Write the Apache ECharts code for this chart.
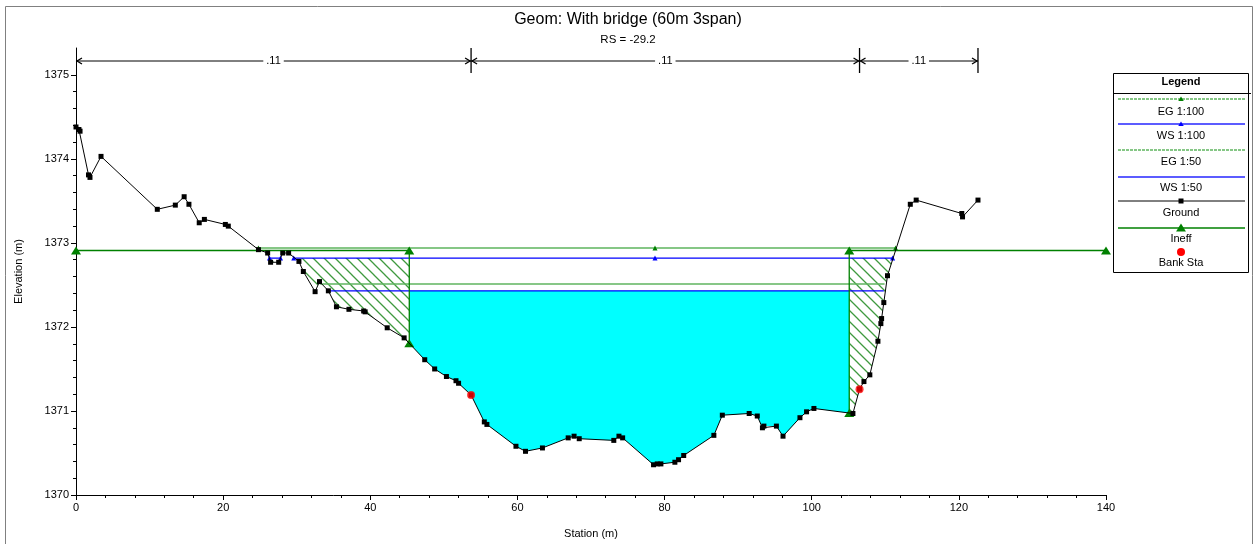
<!DOCTYPE html>
<html>
<head>
<meta charset="utf-8">
<script src="https://cdn.jsdelivr.net/npm/echarts@6/dist/echarts.min.js"></script>
<style>
  html, body { margin: 0; padding: 0; background: #fff; }
  #chart { width: 1256px; height: 544px; }
</style>
</head>
<body>
<div id="chart"></div>
<script>
// Cross-section ground points: station (m) and elevation (m)
const groundSta = [0, 0.4, 0.55, 1.7, 1.9, 3.4, 11.05, 13.5, 14.7, 15.35,
  16.75, 17.45, 20.3, 20.7, 24.8, 26.05, 26.45, 27.55, 28.1, 28.9,
  30.3, 30.9, 32.5, 33.1, 34.3, 35.4, 37.1, 39.1, 39.3, 42.3,
  44.6, 47.4, 48.75, 50.35, 51.65, 52.0, 53.7, 55.5, 55.85, 59.8,
  61.1, 63.4, 66.9, 67.7, 68.4, 73.1, 73.8, 74.3, 78.5, 79.0,
  79.5, 81.4, 81.9, 82.6, 86.7, 87.85, 91.5, 92.6, 93.3, 93.5,
  95.2, 96.1, 98.4, 99.3, 100.3, 105.6, 106.5, 107.1, 107.9, 109.0,
  109.4, 109.5, 109.8, 110.3, 113.4, 114.2, 120.4, 120.5, 122.6];
const groundElev = [1374.38, 1374.35, 1374.33, 1373.81, 1373.78, 1374.03, 1373.40, 1373.45, 1373.55, 1373.46,
  1373.24, 1373.28, 1373.22, 1373.20, 1372.92, 1372.88, 1372.77, 1372.77, 1372.88, 1372.88,
  1372.78, 1372.66, 1372.42, 1372.54, 1372.43, 1372.24, 1372.21, 1372.19, 1372.18, 1371.99,
  1371.87, 1371.61, 1371.50, 1371.41, 1371.36, 1371.33, 1371.19, 1370.87, 1370.84, 1370.58,
  1370.52, 1370.56, 1370.68, 1370.70, 1370.67, 1370.65, 1370.70, 1370.68, 1370.36, 1370.37,
  1370.37, 1370.39, 1370.42, 1370.47, 1370.71, 1370.95, 1370.97, 1370.94, 1370.80, 1370.82,
  1370.82, 1370.70, 1370.92, 1370.99, 1371.03, 1370.97, 1371.26, 1371.35, 1371.43, 1371.83,
  1372.04, 1372.10, 1372.29, 1372.61, 1373.46, 1373.51, 1373.35, 1373.31, 1373.51];

// Bank stations
const bankSta = [53.7, 106.5];
const bankElev = [1371.19, 1371.26];

// Ineffective flow areas: left block and right block (stations), common elevation
const ineffLeftSta = [0, 45.3];
const ineffRightSta = [105.1, 140];
const ineffElev = 1372.91;

// Profiles
const eg100Elev = 1372.94;
const eg100Sta = [24.8, 78.7, 111.4];
const ws100Elev = 1372.82;
const ws100StaPocket = [26.3, 27.8];
const ws100StaMain = [29.6, 78.7, 111.0];
const eg50Elev = 1372.51;
const eg50Sta = [33.2, 109.9];
const ws50Elev = 1372.43;
const ws50Sta = [34.3, 109.8];

// Manning's n regions
const nBreaks = [0, 53.7, 106.5, 122.6];
const nValues = ['.11', '.11', '.11'];

// Axis ticks
const xTicks = [0, 20, 40, 60, 80, 100, 120, 140];
const yTicks = [1370, 1371, 1372, 1373, 1374, 1375];

const FONT = "'Liberation Sans', Arial, sans-serif";
const C_EG = '#5fb55f';
const C_WS = '#0000ff';
const C_INEFF = '#008000';

function groundAt(x) {
  if (x <= groundSta[0]) return groundElev[0];
  for (let i = 1; i < groundSta.length; i++) {
    if (x <= groundSta[i]) {
      const t = (x - groundSta[i - 1]) / (groundSta[i] - groundSta[i - 1]);
      return groundElev[i - 1] + t * (groundElev[i] - groundElev[i - 1]);
    }
  }
  return groundElev[groundElev.length - 1];
}

// Region lying between the ground and a horizontal level, limited to stations [a, b]
function pondPolygon(a, b, level) {
  const xs = [a];
  groundSta.forEach(s => { if (s > a && s < b) xs.push(s); });
  xs.push(b);
  const bottom = [];
  for (let i = 0; i < xs.length; i++) {
    const g = groundAt(xs[i]);
    if (i > 0) {
      const gp = groundAt(xs[i - 1]);
      if ((gp - level) * (g - level) < 0) {
        const t = (level - gp) / (g - gp);
        bottom.push([xs[i - 1] + t * (xs[i] - xs[i - 1]), level]);
      }
    }
    bottom.push([xs[i], Math.min(g, level)]);
  }
  return [[a, level], [b, level]].concat(bottom.reverse());
}

function hatchCanvas() {
  const s = 11;
  const c = document.createElement('canvas');
  c.width = s; c.height = s;
  const g = c.getContext('2d');
  g.strokeStyle = '#3f9a3f';
  g.lineWidth = 1.3;
  g.beginPath();
  g.moveTo(-1, -1); g.lineTo(s + 1, s + 1);
  g.moveTo(-1, s - 1); g.lineTo(1, s + 1);
  g.moveTo(s - 1, -1); g.lineTo(s + 1, 1);
  g.stroke();
  return c;
}

function areaSeries(polys, fill, z) {
  return {
    type: 'custom', silent: true, z: z,
    data: polys.map(p => p[0]),
    renderItem: (params, api) => {
      const poly = polys[params.dataIndex];
      return {
        type: 'polygon',
        shape: { points: poly.map(p => api.coord(p)) },
        style: { fill: fill }
      };
    }
  };
}

function flatLine(sta, elev, color, width, symbol, symbolSize, z) {
  return {
    type: 'line', silent: true, z: z,
    data: sta.map(s => [s, elev]),
    lineStyle: { color: color, width: width },
    symbol: symbol || 'none', symbolSize: symbolSize || 0,
    showSymbol: !!symbol,
    itemStyle: { color: color === C_EG ? C_INEFF : color }
  };
}

const waterPoly = pondPolygon(ineffLeftSta[1], ineffRightSta[0], ws50Elev);
const hatchLeft = pondPolygon(ineffLeftSta[0], ineffLeftSta[1], ws100Elev);
const hatchRight = pondPolygon(ineffRightSta[0], ineffRightSta[1], ws100Elev);

// minor tick positions: five steps per metre between the labelled elevations
const minorY = [];
for (let k = 0; k < (yTicks.length - 1) * 5; k++) {
  if (k % 5 !== 0) minorY.push(Math.round((yTicks[0] + k * 0.2) * 10) / 10);
}

const series = [
  areaSeries([waterPoly], '#00ffff', 1),
  areaSeries([hatchLeft, hatchRight], { type: 'pattern', image: hatchCanvas(), repeat: 'repeat' }, 2),
  flatLine(eg50Sta, eg50Elev, C_EG, 1.5, null, 0, 3),
  flatLine(ws50Sta, ws50Elev, C_WS, 1.2, null, 0, 3),
  flatLine(eg100Sta, eg100Elev, C_EG, 1.5, 'triangle', 5, 4),
  flatLine(ws100StaPocket, ws100Elev, C_WS, 1.2, 'triangle', 5, 4),
  flatLine(ws100StaMain, ws100Elev, C_WS, 1.2, 'triangle', 5, 4),
  {
    type: 'line', silent: true, z: 5,
    data: [[ineffLeftSta[0], ineffElev], [ineffLeftSta[1], ineffElev], [ineffLeftSta[1], groundAt(ineffLeftSta[1])]],
    lineStyle: { color: C_INEFF, width: 1.3 },
    symbol: 'triangle', symbolSize: [10, 8], itemStyle: { color: C_INEFF }
  },
  {
    type: 'line', silent: true, z: 5,
    data: [[ineffRightSta[0], groundAt(ineffRightSta[0])], [ineffRightSta[0], ineffElev], [ineffRightSta[1], ineffElev]],
    lineStyle: { color: C_INEFF, width: 1.3 },
    symbol: 'triangle', symbolSize: [10, 8], itemStyle: { color: C_INEFF }
  },
  {
    type: 'line', silent: true, z: 6,
    data: groundSta.map((s, i) => [s, groundElev[i]]),
    lineStyle: { color: '#000', width: 1 },
    symbol: 'rect', symbolSize: 5, itemStyle: { color: '#000' }
  },
  {
    type: 'scatter', silent: true, z: 7,
    data: bankSta.map((s, i) => [s, bankElev[i]]),
    symbol: 'circle', symbolSize: 8, itemStyle: { color: '#ff0000' }
  },
  {
    // Manning's n dimension bars along the top of the plot
    type: 'custom', silent: true, z: 8,
    data: nValues.map((v, i) => [nBreaks[i], yTicks[0]]),
    renderItem: (params, api) => {
      const i = params.dataIndex;
      const x0 = api.coord([nBreaks[i], yTicks[0]])[0];
      const x1 = api.coord([nBreaks[i + 1], yTicks[0]])[0];
      const y = params.coordSys.y + 13;
      const st = { stroke: '#000', lineWidth: 1, fill: null };
      const children = [
        { type: 'line', shape: { x1: x0, y1: y, x2: x1, y2: y }, style: st },
        { type: 'polyline', shape: { points: [[x0 + 6, y - 3], [x0 + 1, y], [x0 + 6, y + 3]] }, style: { stroke: '#000', lineWidth: 1.3, fill: null } },
        { type: 'polyline', shape: { points: [[x1 - 6, y - 3], [x1 - 1, y], [x1 - 6, y + 3]] }, style: { stroke: '#000', lineWidth: 1.3, fill: null } },
        { type: 'line', shape: { x1: x1, y1: y - 13, x2: x1, y2: y + 12 }, style: { stroke: '#000', lineWidth: 1.3 } },
        {
          type: 'text', x: (x0 + x1) / 2, y: y,
          style: {
            text: nValues[i], align: 'center', verticalAlign: 'middle',
            font: '11px ' + FONT, fill: '#000', backgroundColor: '#fff', padding: [0, 3]
          }
        }
      ];
      return { type: 'group', children: children };
    }
  }
];

// Legend drawn as a boxed panel, sample line above each caption
const LG = { x: 1113, y: 73, w: 135, h: 199, cx: 1181 };
const legendItems = [
  { name: 'EG 1:100', ly: 99, ty: 112, line: C_EG, dash: [3, 1], lw: 1.5, mark: 'tri', mc: C_INEFF, ms: 5 },
  { name: 'WS 1:100', ly: 124, ty: 136, line: '#5c5cff', lw: 2, mark: 'tri', mc: C_WS, ms: 5 },
  { name: 'EG 1:50', ly: 150, ty: 162, line: C_EG, dash: [3, 1], lw: 1.5 },
  { name: 'WS 1:50', ly: 177, ty: 188, line: '#5c5cff', lw: 2 },
  { name: 'Ground', ly: 201, ty: 213, line: '#000', lw: 1, mark: 'sq', mc: '#000', ms: 5 },
  { name: 'Ineff', ly: 228, ty: 239, line: C_INEFF, lw: 1.3, mark: 'tri', mc: C_INEFF, ms: 9 },
  { name: 'Bank Sta', ly: 252, ty: 263, mark: 'dot', mc: '#ff0000', ms: 8 }
];
const legendGraphics = [
  { type: 'rect', shape: { x: LG.x + 0.5, y: LG.y + 0.5, width: LG.w, height: LG.h }, style: { fill: '#fff', stroke: '#000', lineWidth: 1 }, z: 100 },
  { type: 'line', shape: { x1: LG.x, y1: 93.5, x2: LG.x + LG.w + 3, y2: 93.5 }, style: { stroke: '#000', lineWidth: 1 }, z: 101 },
  { type: 'text', x: LG.cx, y: 82, style: { text: 'Legend', align: 'center', verticalAlign: 'middle', font: 'bold 11px ' + FONT, fill: '#000' }, z: 101 }
];
legendItems.forEach(it => {
  if (it.line) {
    legendGraphics.push({ type: 'line', shape: { x1: LG.x + 5, y1: it.ly, x2: LG.x + LG.w - 3, y2: it.ly },
      style: { stroke: it.line, lineWidth: it.lw, lineDash: it.dash || null }, z: 101 });
  }
  const h = it.ms / 2;
  if (it.mark === 'tri') {
    legendGraphics.push({ type: 'polygon', shape: { points: [[LG.cx, it.ly - h], [LG.cx - h * 1.1, it.ly + h * 0.8], [LG.cx + h * 1.1, it.ly + h * 0.8]] },
      style: { fill: it.mc }, z: 102 });
  } else if (it.mark === 'sq') {
    legendGraphics.push({ type: 'rect', shape: { x: LG.cx - h, y: it.ly - h, width: it.ms, height: it.ms }, style: { fill: it.mc }, z: 102 });
  } else if (it.mark === 'dot') {
    legendGraphics.push({ type: 'circle', shape: { cx: LG.cx, cy: it.ly, r: h }, style: { fill: it.mc }, z: 102 });
  }
  legendGraphics.push({ type: 'text', x: LG.cx, y: it.ty,
    style: { text: it.name, align: 'center', verticalAlign: 'middle', font: '11px ' + FONT, fill: '#000' }, z: 102 });
});

const axisBase = {
  axisLine: { show: true, lineStyle: { color: '#000', width: 1 } },
  splitLine: { show: false },
  axisLabel: { color: '#000', fontSize: 11, fontFamily: FONT },
  nameTextStyle: { color: '#000', fontSize: 11, fontFamily: FONT }
};

const option = {
  animation: false,
  backgroundColor: '#fff',
  title: {
    text: 'Geom: With bridge (60m 3span)',
    subtext: 'RS = -29.2',
    left: 'center', top: 12, padding: 0, itemGap: 6,
    textStyle: { fontSize: 16, fontWeight: 'normal', color: '#000', fontFamily: FONT },
    subtextStyle: { fontSize: 11.5, color: '#000', fontFamily: FONT }
  },
  grid: { left: 76, right: 150, top: 48, bottom: 46 },
  xAxis: Object.assign({}, axisBase, {
    type: 'value', min: xTicks[0], max: xTicks[xTicks.length - 1], interval: 20,
    name: 'Station (m)', nameLocation: 'middle', nameGap: 33,
    axisTick: { show: true, length: 5, lineStyle: { color: '#000' } },
    minorTick: { show: true, splitNumber: 5, length: 3, lineStyle: { color: '#000' } },
    axisLabel: Object.assign({}, axisBase.axisLabel, { margin: 7, formatter: v => String(v) })
  }),
  yAxis: [
    Object.assign({}, axisBase, {
      type: 'value', min: yTicks[0], max: 1375.32, interval: 1,
      name: 'Elevation (m)', nameLocation: 'middle', nameGap: 52, nameRotate: 90,
      axisTick: { show: true, length: 5, customValues: yTicks, lineStyle: { color: '#000' } },
      axisLabel: Object.assign({}, axisBase.axisLabel, { margin: 7, customValues: yTicks, formatter: v => String(v) }),
      minorTick: { show: false }
    }),
    {
      type: 'value', min: yTicks[0], max: 1375.32, position: 'left', offset: 0,
      axisLine: { show: true, lineStyle: { color: 'rgba(0,0,0,0)' } },
      splitLine: { show: false },
      axisLabel: { show: true, color: 'rgba(0,0,0,0)', customValues: minorY, formatter: () => '' },
      axisTick: { show: true, length: 3, customValues: minorY, lineStyle: { color: '#000' } }
    }
  ],
  graphic: [
    { type: 'rect', shape: { x: 5.5, y: 6.5, width: 1247, height: 600 }, style: { fill: null, stroke: '#808080', lineWidth: 1 }, z: -1, silent: true }
  ].concat(legendGraphics),
  series: series
};

const chart = echarts.init(document.getElementById('chart'), null, { renderer: 'canvas' });
chart.setOption(option);
</script>
</body>
</html>
